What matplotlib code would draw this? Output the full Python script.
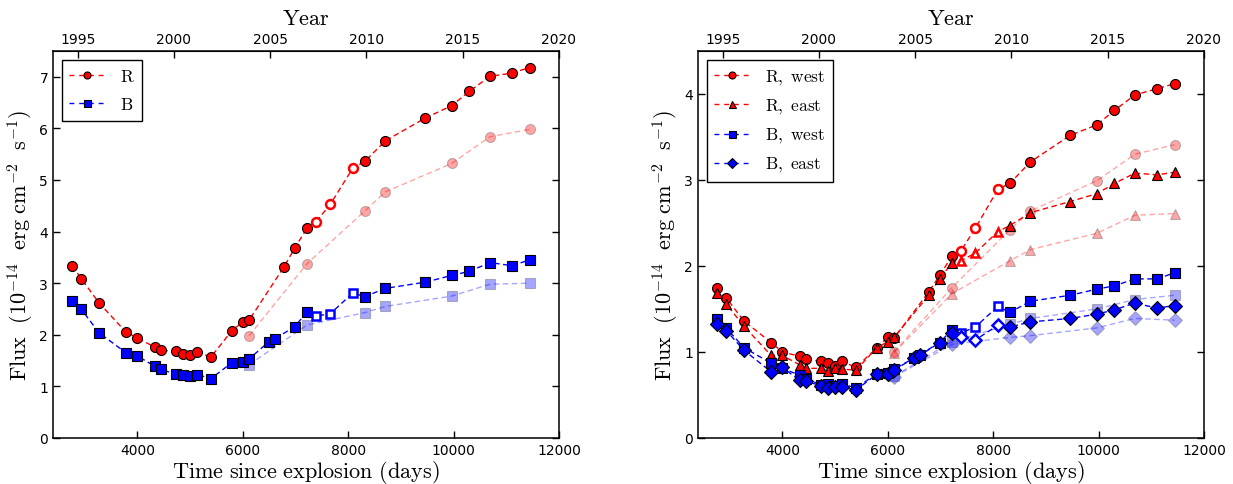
import numpy as np
import matplotlib
matplotlib.use("Agg")
import matplotlib.pyplot as plt
from matplotlib.ticker import MultipleLocator, FixedLocator

plt.rcParams['mathtext.fontset'] = 'cm'
plt.rcParams['font.family'] = ['DejaVu Sans']

# ---------------- data ----------------
days_R = [2765, 2934, 3272, 3787, 4000, 4331, 4441, 4728, 4860, 5007, 5140, 5397,
          5794, 6000, 6118, 6779, 6985, 7221, 7382, 7662, 8088, 8316, 8706, 9463,
          9963, 10301, 10691, 11103, 11441]
days_B = [2765, 2934, 3272, 3787, 4000, 4331, 4441, 4728, 4860, 5007, 5140, 5397,
          5794, 6000, 6118, 6500, 6610, 6985, 7221, 7382, 7662, 8088, 8316, 8706,
          9463, 9963, 10301, 10691, 11103, 11441]
open_days = [7382, 7662, 8088]

flux_R = [3.34, 3.09, 2.62, 2.05, 1.94, 1.76, 1.70, 1.68, 1.62, 1.60, 1.67, 1.57,
          2.08, 2.25, 2.28, 3.31, 3.68, 4.07, 4.18, 4.53, 5.23, 5.36, 5.76, 6.20,
          6.44, 6.72, 7.01, 7.07, 7.18]
flux_B = [2.66, 2.50, 2.04, 1.65, 1.59, 1.39, 1.33, 1.24, 1.22, 1.20, 1.23, 1.15,
          1.46, 1.48, 1.53, 1.87, 1.92, 2.16, 2.44, 2.36, 2.41, 2.81, 2.74, 2.90,
          3.02, 3.15, 3.23, 3.40, 3.34, 3.45]

days_faded = [6118, 7221, 8316, 8706, 9963, 10691, 11441]
faded_R = [1.98, 3.38, 4.40, 4.77, 5.32, 5.84, 5.98]
faded_B = [1.42, 2.19, 2.43, 2.55, 2.75, 2.98, 3.00]

flux_R_west = [1.75, 1.63, 1.36, 1.11, 1.00, 0.95, 0.92, 0.89, 0.87, 0.84, 0.89, 0.82,
               1.05, 1.17, 1.16, 1.70, 1.89, 2.12, 2.17, 2.44, 2.89, 2.96, 3.21, 3.52,
               3.64, 3.81, 3.99, 4.06, 4.12]
flux_R_east = [1.69, 1.56, 1.30, 0.96, 0.96, 0.85, 0.81, 0.81, 0.78, 0.81, 0.80, 0.79,
               1.05, 1.12, 1.17, 1.66, 1.85, 2.04, 2.06, 2.15, 2.40, 2.47, 2.62, 2.75,
               2.84, 2.96, 3.08, 3.06, 3.09]
flux_B_west = [1.38, 1.28, 1.05, 0.87, 0.81, 0.73, 0.69, 0.62, 0.63, 0.60, 0.63, 0.58,
               0.75, 0.76, 0.80, 0.93, 0.97, 1.11, 1.26, 1.22, 1.29, 1.53, 1.46, 1.59,
               1.66, 1.73, 1.77, 1.85, 1.85, 1.92]
flux_B_east = [1.33, 1.25, 1.02, 0.77, 0.82, 0.67, 0.66, 0.61, 0.58, 0.59, 0.59, 0.56,
               0.74, 0.75, 0.79, 0.93, 0.96, 1.11, 1.22, 1.17, 1.14, 1.31, 1.29, 1.35,
               1.39, 1.44, 1.49, 1.57, 1.51, 1.54]

faded_R_west = [1.00, 1.75, 2.42, 2.64, 2.99, 3.30, 3.41]
faded_R_east = [0.99, 1.68, 2.06, 2.19, 2.38, 2.59, 2.61]
faded_B_west = [0.72, 1.12, 1.32, 1.39, 1.50, 1.61, 1.66]
faded_B_east = [0.71, 1.09, 1.17, 1.19, 1.28, 1.39, 1.37]

year_ticks = [1995, 2000, 2005, 2010, 2015, 2020]
x_ticks = [4000, 6000, 8000, 10000, 12000]

EXPLOSION = 1987.1465
def d2y(d):
    return EXPLOSION + np.asarray(d) / 365.25
def y2d(y):
    return (np.asarray(y) - EXPLOSION) * 365.25

DASH = (4, 2.5)
MS = 7.2


def series(ax, days, flux, color, marker, label, ms=MS):
    days = np.asarray(days); flux = np.asarray(flux)
    is_open = np.isin(days, open_days)
    ax.plot(days, flux, color=color, lw=1.0, dashes=DASH, zorder=3)
    ax.plot(days[~is_open], flux[~is_open], ls='none', marker=marker, ms=ms,
            mfc=color, mec='black', mew=0.8, zorder=4)
    ax.plot(days[is_open], flux[is_open], ls='none', marker=marker, ms=ms - 0.8,
            mfc='white', mec=color, mew=1.8, zorder=4)
    # legend proxy
    ax.plot([], [], color=color, lw=1.0, dashes=(3.5, 3.5), marker=marker, ms=ms,
            mfc=color, mec='black', mew=0.8, label=label)


def faded(ax, flux, color, marker, ms=MS):
    ax.plot(days_faded, flux, color=color, lw=1.0, dashes=DASH, alpha=0.35,
            marker=marker, ms=ms, mfc=color, mec='0.3', mew=0.8, zorder=2)


def style(ax, ymax, ytick_step):
    ax.set_xlim(2400, 12000)
    ax.set_ylim(0, ymax)
    ax.xaxis.set_major_locator(FixedLocator(x_ticks))
    ax.yaxis.set_major_locator(MultipleLocator(ytick_step))
    ax.tick_params(direction='in', top=False, right=True, labelsize=10,
                   length=5, width=1)
    for s in ax.spines.values():
        s.set_linewidth(1.1)
    ax.set_xlabel(r'$\mathrm{Time\ since\ explosion\ (days)}$', fontsize=16,
                  labelpad=1)
    ax.set_ylabel(r'$\mathrm{Flux}\ \ (10^{-14}\ \ \mathrm{erg\ cm^{-2}\ \ s^{-1}})$',
                  fontsize=16, labelpad=2)
    sec = ax.secondary_xaxis('top', functions=(d2y, y2d))
    sec.set_xticks(year_ticks)
    sec.set_xticklabels([str(y) for y in year_ticks])
    sec.tick_params(direction='in', labelsize=10, length=5, width=1)
    sec.set_xlabel(r'$\mathrm{Year}$', fontsize=16, labelpad=6)


def legend(ax):
    leg = ax.legend(loc='upper left', numpoints=1, fontsize=12.5, fancybox=False,
                    edgecolor='black', framealpha=1, handlelength=2.0,
                    markerscale=0.7, borderpad=0.45, labelspacing=0.55,
                    handletextpad=0.9, borderaxespad=0.5)
    leg.get_frame().set_linewidth(1.0)


fig = plt.figure(figsize=(12.33, 4.85), dpi=100)
ax1 = fig.add_axes([53/1233, 46/485, 506/1233, 387/485])
ax2 = fig.add_axes([698/1233, 46/485, 506/1233, 387/485])

# left panel
faded(ax1, faded_R, 'red', 'o')
faded(ax1, faded_B, 'blue', 's')
series(ax1, days_R, flux_R, 'red', 'o', r'$\mathrm{R}$')
series(ax1, days_B, flux_B, 'blue', 's', r'$\mathrm{B}$')
style(ax1, 7.5, 1)
legend(ax1)

# right panel
faded(ax2, faded_R_west, 'red', 'o')
faded(ax2, faded_R_east, 'red', '^')
faded(ax2, faded_B_west, 'blue', 's')
faded(ax2, faded_B_east, 'blue', 'D', ms=MS - 0.5)
series(ax2, days_R, flux_R_west, 'red', 'o', r'$\mathrm{R,\ west}$')
series(ax2, days_R, flux_R_east, 'red', '^', r'$\mathrm{R,\ east}$')
series(ax2, days_B, flux_B_west, 'blue', 's', r'$\mathrm{B,\ west}$')
series(ax2, days_B, flux_B_east, 'blue', 'D', r'$\mathrm{B,\ east}$', ms=MS - 0.5)
style(ax2, 4.5, 1)
legend(ax2)

fig.savefig('out.png', dpi=100)
